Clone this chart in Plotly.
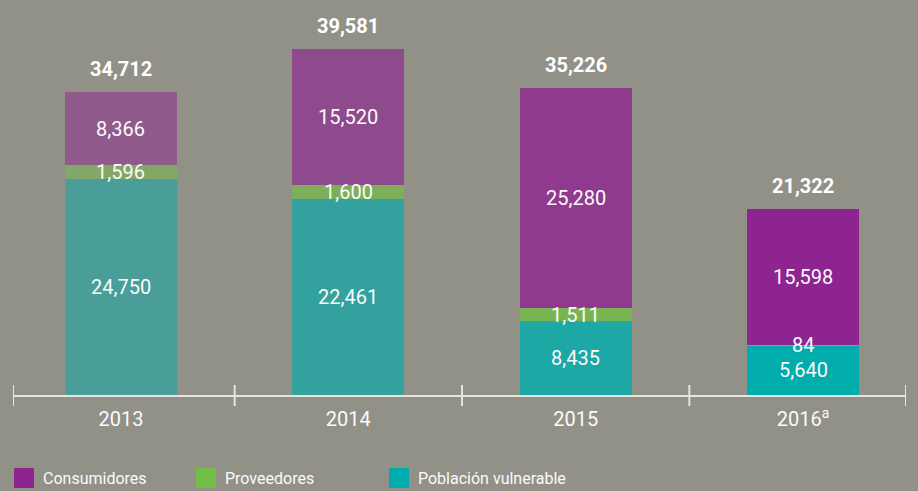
import plotly.graph_objects as go

# Values per year (stacked bottom to top: vulnerable population, suppliers, consumers)
years = ["2013", "2014", "2015", "2016"]
year_labels = ["2013", "2014", "2015", "2016<sup>a</sup>"]
poblacion_vulnerable = [24750, 22461, 8435, 5640]
proveedores = [1596, 1600, 1511, 84]
consumidores = [8366, 15520, 25280, 15598]
totales = [34712, 39581, 35226, 21322]

# Styling
BG = "#929188"
TEAL = "#00ACAC"
GREEN = "#72BE44"
PURPLE = "#8E2490"
TEXT = "#FAFAFA"
AXIS = "#E4E4E0"
FONT = "Roboto, sans-serif"
year_opacity = [0.5, 0.65, 0.8, 1.0]

x = list(range(len(years)))
x_range = [-0.475, 3.453]
PLOT_W, PLOT_H = 893, 395  # plot area in pixels

series = [
    ("Población vulnerable", poblacion_vulnerable, TEAL),
    ("Proveedores", proveedores, GREEN),
    ("Consumidores", consumidores, PURPLE),
]

fig = go.Figure()
annotations = []
base = [0] * len(years)
for name, vals, color in series:
    fig.add_trace(go.Bar(
        x=x, y=vals, name=name, width=0.493,
        marker=dict(color=color, opacity=year_opacity, line=dict(width=0)),
        showlegend=False, hoverinfo="skip",
    ))
    for i, v in enumerate(vals):
        annotations.append(dict(
            x=x[i], y=base[i] + v / 2, xref="x", yref="y",
            text=f"{v:,}", showarrow=False,
            font=dict(family=FONT, size=20, color=TEXT),
            xanchor="center", yanchor="middle",
        ))
    base = [b + v for b, v in zip(base, vals)]

# Totals above each bar
for i, t in enumerate(totales):
    annotations.append(dict(
        x=x[i], y=t, xref="x", yref="y",
        text=f"<b>{t:,}</b>", showarrow=False,
        font=dict(family=FONT, size=20, color="#FFFFFF"),
        xanchor="center", yanchor="bottom", yshift=9,
    ))

# Tick marks crossing the axis line at the category boundaries
edges = [x_range[0]] + [i + 0.5 for i in x[:-1]] + [x_range[1]]
shapes = [dict(type="line", xref="x", yref="paper", x0=e, x1=e,
               y0=-11 / PLOT_H, y1=10 / PLOT_H,
               line=dict(color=AXIS, width=2)) for e in edges]

# Legend row below the axis: square swatch followed by its label
legend_items = [("Consumidores", PURPLE, 14), ("Proveedores", GREEN, 196),
                ("Población vulnerable", TEAL, 389)]
for name, color, left in legend_items:
    x0 = (left - 13) / PLOT_W
    shapes.append(dict(
        type="rect", xref="paper", yref="paper",
        x0=x0, x1=x0 + 20 / PLOT_W,
        y0=(PLOT_H - 488) / PLOT_H, y1=(PLOT_H - 468) / PLOT_H,
        fillcolor=color, line=dict(width=0),
    ))
    annotations.append(dict(
        x=x0 + 27 / PLOT_W, y=(PLOT_H - 478) / PLOT_H,
        xref="paper", yref="paper", text=name, showarrow=False,
        xanchor="left", yanchor="middle",
        font=dict(family=FONT, size=16, color=TEXT),
    ))

fig.update_layout(
    width=918, height=491,
    margin=dict(l=13, r=12, t=0, b=96),
    paper_bgcolor=BG, plot_bgcolor=BG,
    barmode="stack",
    font=dict(family=FONT, color=TEXT),
    xaxis=dict(
        range=x_range, tickvals=x, ticktext=year_labels,
        showline=True, linecolor=AXIS, linewidth=2,
        showgrid=False, zeroline=False, ticks="",
        tickfont=dict(family=FONT, size=20, color=TEXT),
        ticklabelstandoff=5,
    ),
    yaxis=dict(range=[0, 45250], visible=False, showgrid=False, zeroline=False),
    annotations=annotations,
    shapes=shapes,
    showlegend=False,
)

fig.write_html("out.html")
